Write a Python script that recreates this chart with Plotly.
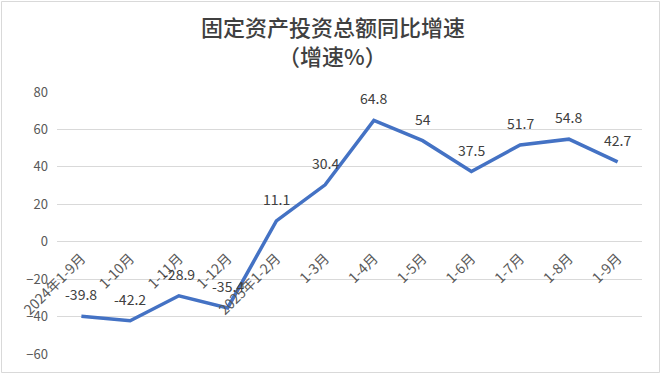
import plotly.graph_objects as go

categories = ["2024年1-9月", "1-10月", "1-11月", "1-12月", "2025年1-2月", "1-3月",
              "1-4月", "1-5月", "1-6月", "1-7月", "1-8月", "1-9月"]
values = [-39.8, -42.2, -28.9, -35.4, 11.1, 30.4, 64.8, 54, 37.5, 51.7, 54.8, 42.7]
value_labels = ["-39.8", "-42.2", "-28.9", "-35.4", "11.1", "30.4", "64.8", "54", "37.5", "51.7", "54.8", "42.7"]
y_ticks = [80, 60, 40, 20, 0, -20, -40, -60]
title_lines = ["固定资产投资总额同比增速", "（增速%）"]

W, H = 661, 374
L, R, T, B = 57, 19, 92, 20
pw, ph = W - L - R, H - T - B

fig = go.Figure()
fig.add_trace(go.Scatter(
    x=list(range(len(categories))), y=values, mode="lines",
    line=dict(color="#4472C4", width=3.5), hoverinfo="skip", showlegend=False,
))

annotations = []
for i, (v, t) in enumerate(zip(values, value_labels)):
    annotations.append(dict(x=i, y=v, xref="x", yref="y", text=t, showarrow=False,
                            yshift=22, font=dict(size=14, color="#404040")))

# title lines as paper annotations (container pixel centres converted to paper fractions)
for line_text, cy in zip(title_lines, [26, 55]):
    annotations.append(dict(
        text=line_text, showarrow=False, xref="paper", yref="paper",
        x=(W / 2 + 2 - L) / pw, y=(H - B - cy) / ph, xanchor="center", yanchor="middle",
        font=dict(size=22, color="#404040", family="Noto Sans CJK SC", weight=500),
    ))

fig.update_layout(
    width=W, height=H,
    margin=dict(l=L, r=R, t=T, b=B),
    paper_bgcolor="white", plot_bgcolor="white",
    font=dict(family="Noto Sans CJK SC, Noto Sans, sans-serif", color="#595959"),
    xaxis=dict(
        range=[-0.5, len(categories) - 0.5],
        tickmode="array", tickvals=list(range(len(categories))), ticktext=categories,
        tickangle=-45, showgrid=False, zeroline=False, showline=False, ticks="",
        anchor="free", position=60 / 140, ticklabelstandoff=5,
        tickfont=dict(size=14, color="#595959"),
        fixedrange=True,
    ),
    yaxis=dict(
        range=[-60, 80], tickmode="array", tickvals=y_ticks,
        showgrid=True, gridcolor="#d9d9d9", gridwidth=1,
        zeroline=True, zerolinecolor="#d9d9d9", zerolinewidth=1,
        showline=False, ticks="", ticklabelstandoff=8,
        tickfont=dict(size=13, color="#595959"),
        fixedrange=True,
    ),
    annotations=annotations,
    shapes=[dict(type="rect", xref="paper", yref="paper",
                 x0=(1.5 - L) / pw, x1=(W - 1.5 - L) / pw,
                 y0=(H - B - (H - 1.5)) / ph, y1=(H - B - 1.5) / ph,
                 line=dict(color="#d9d9d9", width=1), layer="below")],
)

fig.write_html("out.html", config={"displayModeBar": False})
with open("out.html", encoding="utf-8") as f:
    html = f.read()
html = html.replace("<head>", "<head><style>html,body{margin:0;padding:0;overflow:hidden;}</style>", 1)
with open("out.html", "w", encoding="utf-8") as f:
    f.write(html)
